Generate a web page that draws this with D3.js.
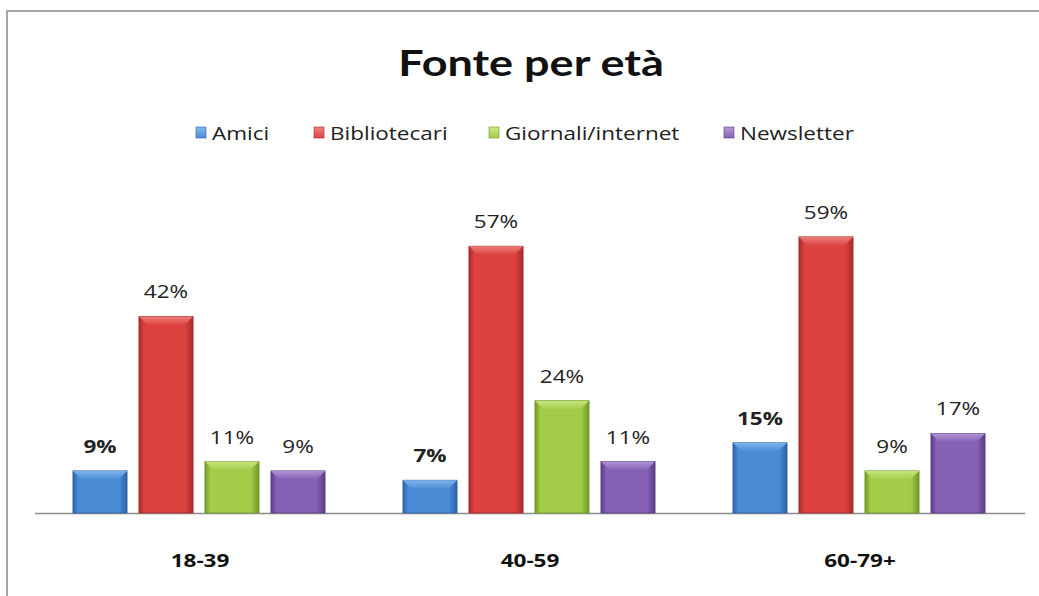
<!DOCTYPE html>
<html>
<head>
<meta charset="utf-8">
<script src="https://cdn.jsdelivr.net/npm/d3@7"></script>
<style>
  html, body { margin: 0; padding: 0; background: #fff; }
  svg { display: block; }
</style>
</head>
<body>
<svg id="chart" width="1039" height="596"></svg>
<script>
// Age groups and the share of each information source
const categories = ["18-39", "40-59", "60-79+"];
const seriesNames = ["Amici", "Bibliotecari", "Giornali/internet", "Newsletter"];
const amici = [9, 7, 15];
const bibliotecari = [42, 57, 59];
const giornali = [11, 24, 9];
const newsletter = [9, 11, 17];
const seriesValues = [amici, bibliotecari, giornali, newsletter];

const colors = {
  "Amici":             { base: "#4a8bd6", dark: "#2d62a8", light: "#86b8ee" },
  "Bibliotecari":      { base: "#dc4240", dark: "#a82a29", light: "#f08480" },
  "Giornali/internet": { base: "#a3cc48", dark: "#6f9828", light: "#cde886" },
  "Newsletter":        { base: "#8560b4", dark: "#5a3d86", light: "#b49ada" }
};

const svg = d3.select("#chart");
const W = 1039, H = 596;
const sx = 1.25; // horizontal text stretch

// outer frame
svg.append("rect")
  .attr("x", 7).attr("y", 11)
  .attr("width", W + 20).attr("height", H + 20)
  .attr("fill", "#fff")
  .attr("stroke", "#a6a6a6").attr("stroke-width", 2);

function stretchedText(sel, x, y) {
  return sel.attr("transform", `translate(${x},${y}) scale(${sx},1)`);
}

// title
stretchedText(svg.append("text"), 531, 76)
  .attr("text-anchor", "middle")
  .attr("font-family", "Lato, 'Open Sans', sans-serif")
  .attr("font-weight", "bold")
  .attr("font-size", 36)
  .attr("fill", "#111")
  .text("Fonte per età");

// scales: outer band per age group, inner band per source (offset within group)
const x0 = d3.scaleBand().domain(categories).range([35, 1025]).paddingInner(0).paddingOuter(0);
const x1 = d3.scaleBand().domain(seriesNames).range([32, 296]).paddingInner(0.18).paddingOuter(0.09);
const y = d3.scaleLinear().domain([0, 70]).range([513, 185.4]);

// gradients
const defs = svg.append("defs");
seriesNames.forEach((s, i) => {
  const c = colors[s];
  const g = defs.append("linearGradient").attr("id", "body" + i)
    .attr("x1", "0").attr("x2", "1").attr("y1", "0").attr("y2", "0");
  g.append("stop").attr("offset", "0").attr("stop-color", c.dark);
  g.append("stop").attr("offset", "0.1").attr("stop-color", c.base);
  g.append("stop").attr("offset", "0.85").attr("stop-color", c.base);
  g.append("stop").attr("offset", "1").attr("stop-color", c.dark);
  const t = defs.append("linearGradient").attr("id", "top" + i)
    .attr("x1", "0").attr("x2", "0").attr("y1", "0").attr("y2", "1");
  t.append("stop").attr("offset", "0").attr("stop-color", c.light);
  t.append("stop").attr("offset", "1").attr("stop-color", c.base);
});

// legend
const legendItems = [
  { name: "Amici", x: 196 },
  { name: "Bibliotecari", x: 314 },
  { name: "Giornali/internet", x: 489 },
  { name: "Newsletter", x: 724 }
];
legendItems.forEach(item => {
  const i = seriesNames.indexOf(item.name);
  const c = colors[item.name];
  svg.append("rect")
    .attr("x", item.x).attr("y", 127)
    .attr("width", 10).attr("height", 11)
    .attr("fill", `url(#top${i})`)
    .attr("stroke", c.dark).attr("stroke-width", 0.6);
  stretchedText(svg.append("text"), item.x + 16, 140)
    .attr("font-family", "'Open Sans', sans-serif")
    .attr("font-size", 18)
    .attr("fill", "#222")
    .text(item.name);
});

// axis baseline
svg.append("line")
  .attr("x1", 35).attr("x2", 1025)
  .attr("y1", 513.5).attr("y2", 513.5)
  .attr("stroke", "#8c8c8c").attr("stroke-width", 1.5);

// category labels
const xAxis = d3.axisBottom(x0).tickSize(0).tickPadding(0);
const axisG = svg.append("g").attr("transform", "translate(0,513)").call(xAxis);
axisG.select(".domain").remove();
axisG.selectAll(".tick text")
  .attr("y", 0).attr("dy", 0)
  .attr("transform", `translate(0,54) scale(${sx},1)`)
  .attr("font-family", "'Open Sans', sans-serif")
  .attr("font-weight", "bold")
  .attr("font-size", 18)
  .attr("fill", "#111");

// bars
const groups = svg.append("g").selectAll("g")
  .data(categories)
  .join("g")
  .attr("transform", d => `translate(${x0(d)},0)`);

groups.each(function (cat, ci) {
  const g = d3.select(this);
  seriesNames.forEach((s, si) => {
    const v = seriesValues[si][ci];
    const bx = x1(s), bw = x1.bandwidth();
    const top = y(v), h = y(0) - y(v);
    const b = Math.min(9, h / 3);
    const c = colors[s];
    g.append("rect")
      .attr("x", bx).attr("y", top)
      .attr("width", bw).attr("height", h)
      .attr("fill", `url(#body${si})`)
      .attr("stroke", c.dark).attr("stroke-width", 0.8);
    // bevelled top face
    g.append("path")
      .attr("d", `M${bx},${top} L${bx + bw},${top} L${bx + bw - b},${top + b} L${bx + b},${top + b} Z`)
      .attr("fill", `url(#top${si})`)
      .attr("opacity", 0.9);
    // value label
    stretchedText(g.append("text"), bx + bw / 2, top - 18)
      .attr("text-anchor", "middle")
      .attr("font-family", "'Open Sans', sans-serif")
      .attr("font-weight", si === 0 ? "bold" : "normal")
      .attr("font-size", 18)
      .attr("fill", "#222")
      .text(v + "%");
  });
});
</script>
</body>
</html>
